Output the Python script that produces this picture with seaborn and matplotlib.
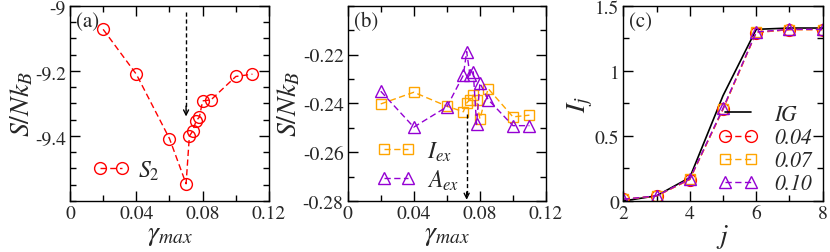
import numpy as np
import pandas as pd
import matplotlib
matplotlib.use("Agg")
import matplotlib.pyplot as plt
import seaborn as sns
from matplotlib.ticker import MultipleLocator, FixedLocator

# --- data ---
gamma = [0.02, 0.04, 0.06, 0.07, 0.072, 0.074, 0.076, 0.078, 0.08, 0.085, 0.10, 0.11]
s2 = [-9.072, -9.21, -9.408, -9.547, -9.40, -9.385, -9.354, -9.342, -9.292, -9.289, -9.217, -9.210]

i_ex = [-0.2402, -0.2354, -0.2411, -0.2434, -0.2398, -0.2384, -0.2366, -0.2387, -0.2463, -0.2339, -0.2455, -0.2448]
a_ex = [-0.2350, -0.2497, -0.2414, -0.2284, -0.2187, -0.2284, -0.2270, -0.2486, -0.2316, -0.2384, -0.2491, -0.2491]

j_vals = [2, 3, 4, 5, 6, 7, 8]
ij_ig = [0.0, 0.04, 0.18, 0.81, 1.32, 1.33, 1.33]
ij_004 = [0.012, 0.038, 0.165, 0.705, 1.295, 1.318, 1.318]
ij_007 = [0.012, 0.039, 0.167, 0.708, 1.297, 1.318, 1.318]
ij_010 = [0.013, 0.040, 0.170, 0.712, 1.300, 1.320, 1.320]

arrow_a = 0.07
arrow_b = 0.072

RED = "#ff0000"
ORANGE = "#ffa500"
VIOLET = "#9400d3"
SERIF = ["STIXGeneral", "Liberation Serif", "DejaVu Serif"]

sns.set_style("ticks")
plt.rcParams["font.family"] = SERIF
plt.rcParams["mathtext.fontset"] = "stix"
plt.rcParams["axes.linewidth"] = 1.0
plt.rcParams["axes.unicode_minus"] = False

fig = plt.figure(figsize=(8.30, 2.53), dpi=100)
ax_a = fig.add_axes([0.0843, 0.2016, 0.2398, 0.771])
ax_b = fig.add_axes([0.4189, 0.2016, 0.2389, 0.771])
ax_c = fig.add_axes([0.7510, 0.2016, 0.2402, 0.771])

dash = (0, (4.5, 2.5))


def series(ax, x, y, color, marker, label, ms=7.5):
    sns.lineplot(x=x, y=y, ax=ax, color=color, marker=marker, markersize=ms,
                 markerfacecolor="none", markeredgecolor=color, markeredgewidth=1.0,
                 linestyle=dash, linewidth=1.0, label=label, estimator=None, sort=False)


def style_axes(ax):
    ax.tick_params(which="both", direction="in", top=True, right=True, labelsize=14,
                   color="black", pad=3)
    ax.tick_params(which="major", length=7, width=1)
    ax.tick_params(which="minor", length=4, width=1)
    for s in ax.spines.values():
        s.set_color("black")
    for lab in ax.get_xticklabels() + ax.get_yticklabels():
        lab.set_fontfamily(SERIF)


def down_arrow(ax, x, y0, y1, head):
    ax.plot([x, x], [y0, y1 + head], color="black", linestyle=(0, (3, 2)), linewidth=1.0)
    ax.annotate("", xy=(x, y1), xytext=(x, y1 + head * 1.6),
                arrowprops=dict(arrowstyle="->", color="black", lw=1.0,
                                mutation_scale=9, shrinkA=0, shrinkB=0))


# panel (a)
series(ax_a, gamma, s2, RED, "o", "$S_2$", ms=8.5)
down_arrow(ax_a, arrow_a, -9.02, -9.34, 0.02)
ax_a.set_xlim(0, 0.12)
ax_a.set_ylim(-9.6, -9.0)
ax_a.xaxis.set_major_locator(FixedLocator([0, 0.04, 0.08, 0.12]))
ax_a.xaxis.set_minor_locator(MultipleLocator(0.02))
ax_a.yaxis.set_major_locator(FixedLocator([-9.4, -9.2, -9.0]))
ax_a.yaxis.set_minor_locator(MultipleLocator(0.05))
ax_a.set_xticklabels(["0", "0.04", "0.08", "0.12"])
ax_a.set_yticklabels(["-9.4", "-9.2", "-9"])
ax_a.set_xlabel(r"$\gamma_{max}$", fontsize=20, labelpad=0)
ax_a.set_ylabel(r"$S/Nk_B$", fontsize=20, labelpad=0)
ax_a.text(0.03, 0.97, "(a)", transform=ax_a.transAxes, fontsize=15, va="top", ha="left")
ax_a.legend(loc="lower left", bbox_to_anchor=(0.07, 0.05), frameon=False, numpoints=2,
            handlelength=1.5, handletextpad=0.4, fontsize=17, borderaxespad=0)
style_axes(ax_a)

# panel (b)
series(ax_b, gamma, i_ex, ORANGE, "s", "$I_{ex}$", ms=7.5)
series(ax_b, gamma, a_ex, VIOLET, "^", "$A_{ex}$", ms=8.5)
down_arrow(ax_b, arrow_b, -0.2445, -0.2795, 0.002)
ax_b.set_xlim(0, 0.12)
ax_b.set_ylim(-0.28, -0.20)
ax_b.xaxis.set_major_locator(FixedLocator([0, 0.04, 0.08, 0.12]))
ax_b.xaxis.set_minor_locator(MultipleLocator(0.02))
ax_b.yaxis.set_major_locator(FixedLocator([-0.28, -0.26, -0.24, -0.22]))
ax_b.yaxis.set_minor_locator(MultipleLocator(0.01))
ax_b.set_xticklabels(["0", "0.04", "0.08", "0.12"])
ax_b.set_yticklabels(["-0.28", "-0.26", "-0.24", "-0.22"])
ax_b.set_xlabel(r"$\gamma_{max}$", fontsize=20, labelpad=0)
ax_b.set_ylabel(r"$S/Nk_B$", fontsize=20, labelpad=0)
ax_b.text(0.03, 0.97, "(b)", transform=ax_b.transAxes, fontsize=15, va="top", ha="left")
ax_b.legend(loc="lower left", bbox_to_anchor=(0.1, 0.0), frameon=False, numpoints=2,
            handlelength=1.6, handletextpad=0.5, fontsize=17, borderaxespad=0,
            labelspacing=0.2)
style_axes(ax_b)

# panel (c)
sns.lineplot(x=j_vals, y=ij_ig, ax=ax_c, color="black", linewidth=1.2, label="IG",
             estimator=None, sort=False)
series(ax_c, j_vals, ij_004, RED, "o", "0.04", ms=8.5)
series(ax_c, j_vals, ij_007, ORANGE, "s", "0.07", ms=7.5)
series(ax_c, j_vals, ij_010, VIOLET, "^", "0.10", ms=8.5)
ax_c.set_xlim(2, 8)
ax_c.set_ylim(0, 1.5)
ax_c.xaxis.set_major_locator(MultipleLocator(2))
ax_c.xaxis.set_minor_locator(MultipleLocator(1))
ax_c.yaxis.set_major_locator(MultipleLocator(0.5))
ax_c.yaxis.set_minor_locator(MultipleLocator(0.25))
ax_c.yaxis.set_major_formatter(plt.FuncFormatter(lambda v, p: f"{v:g}"))
ax_c.set_xlabel(r"$j$", fontsize=20, labelpad=0)
ax_c.set_ylabel(r"$I_j$", fontsize=20, labelpad=0)
ax_c.text(0.03, 0.97, "(c)", transform=ax_c.transAxes, fontsize=15, va="top", ha="left")
leg = ax_c.legend(loc="lower right", bbox_to_anchor=(0.99, -0.01), frameon=False, numpoints=2,
                  handlelength=1.8, handletextpad=0.8, fontsize=15.5, borderaxespad=0,
                  labelspacing=0.1)
for t in leg.get_texts():
    t.set_fontstyle("italic")
style_axes(ax_c)

fig.savefig("out.png", dpi=100)
